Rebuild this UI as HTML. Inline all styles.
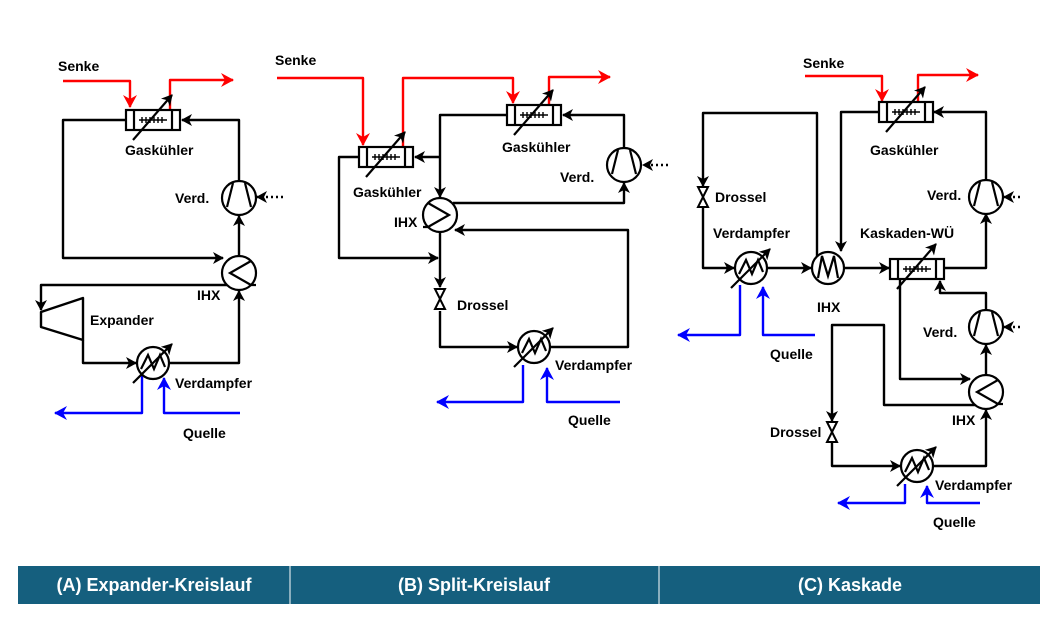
<!DOCTYPE html>
<html><head><meta charset="utf-8"><style>
html,body{margin:0;padding:0;background:#fff;}
svg{display:block;}
text{font-family:"Liberation Sans",Arial,sans-serif;font-weight:bold;font-size:14px;fill:#000;}
.bar text{fill:#fff;font-size:18px;}
</style></head><body>
<svg width="1056" height="634" viewBox="0 0 1056 634" xmlns="http://www.w3.org/2000/svg">
<defs>
<marker id="ak" markerWidth="12" markerHeight="12" refX="10" refY="6" orient="auto" markerUnits="userSpaceOnUse"><path d="M0,0 L11,6 L0,12 L3,6 Z" fill="#000"/></marker>
<marker id="ar" markerWidth="14" markerHeight="14" refX="12" refY="7" orient="auto" markerUnits="userSpaceOnUse"><path d="M0,0 L13,7 L0,14 L4,7 Z" fill="#f00"/></marker>
<marker id="ab" markerWidth="14" markerHeight="14" refX="12" refY="7" orient="auto" markerUnits="userSpaceOnUse"><path d="M0,0 L13,7 L0,14 L4,7 Z" fill="#00f"/></marker>
<g id="comp" fill="none" stroke="#000" stroke-width="2.2">
<circle r="17" fill="#fff"/><line x1="-12" y1="9" x2="-6" y2="-15"/><line x1="12" y1="9" x2="6" y2="-15"/></g>
<g id="ihxl" fill="none" stroke="#000" stroke-width="2.2">
<circle r="17" fill="#fff"/><polyline points="12,-12 -9,0 12,12 17,12"/></g>
<g id="ihxr" fill="none" stroke="#000" stroke-width="2.2">
<circle r="17" fill="#fff"/><polyline points="-12,-12 9,0 -12,12 -17,12"/></g>
<g id="ihxm" fill="none" stroke="#000" stroke-width="2.2">
<circle r="16" fill="#fff"/><polyline points="-10,10 -6,-12 0,8 6,-12 10,10"/></g>
<g id="evap" fill="none" stroke="#000" stroke-width="2.2">
<circle r="16" fill="#fff"/><polyline points="-12,6 -5,-8 1,6 7,-8 12,4"/><line x1="-20" y1="20" x2="19" y2="-19" marker-end="url(#ak)"/></g>
<g id="gc" fill="none" stroke="#000" stroke-width="2.2">
<rect x="-27" y="-10" width="54" height="20" fill="#fff"/><line x1="-19" y1="-10" x2="-19" y2="10"/><line x1="19" y1="-10" x2="19" y2="10"/>
<line x1="-14" y1="0" x2="14" y2="0" stroke-width="1.6"/><path d="M-11,-3V3M-7,-3V3M-3,-3V3M1,-3V3M5,-3V3M9,-3V3" stroke-width="1.4"/>
<line x1="-20" y1="20" x2="19" y2="-25" marker-end="url(#ak)"/></g>
<g id="valve" fill="#fff" stroke="#000" stroke-width="2"><polygon points="-5,-10 5,-10 0,0"/><polygon points="-5,10 5,10 0,0"/></g>
</defs>

<g fill="none" stroke-width="2.4" stroke-linejoin="round">
<!-- Panel A -->
<g stroke="#f00"><path d="M63,81 H130 V107" marker-end="url(#ar)"/><path d="M170,110 V80 H233" marker-end="url(#ar)"/></g>
<g stroke="#00f"><path d="M142,375 V413 H55" marker-end="url(#ab)"/><path d="M240,413 H164 V378" marker-end="url(#ab)"/></g>
<g stroke="#000">
<path d="M239,181 V120 H182" marker-end="url(#ak)"/>
<path d="M127,120 H63 V258 H223" marker-end="url(#ak)"/>
<path d="M283,197 H257" stroke-dasharray="2,3" marker-end="url(#ak)"/>
<path d="M239,256 V216" marker-end="url(#ak)"/>
<path d="M168,363 H239 V291" marker-end="url(#ak)"/>
<path d="M236,285 H41 V310" marker-end="url(#ak)"/>
<path d="M83,340 V363 H136" marker-end="url(#ak)"/>
<polygon points="41,312 83,298 83,340 41,327" fill="#fff"/>
</g>
<!-- Panel B -->
<g stroke="#f00"><path d="M277,78 H363 V145" marker-end="url(#ar)"/><path d="M403,147 V78 H513 V103" marker-end="url(#ar)"/><path d="M549,105 V77 H610" marker-end="url(#ar)"/></g>
<g stroke="#00f"><path d="M523,365 V402 H437" marker-end="url(#ab)"/><path d="M620,402 H547 V368" marker-end="url(#ab)"/></g>
<g stroke="#000">
<path d="M668,165 H643" stroke-dasharray="2,3" marker-end="url(#ak)"/>
<path d="M624,148 V115 H563" marker-end="url(#ak)"/>
<path d="M507,115 H440 V197" marker-end="url(#ak)"/>
<path d="M440,157 H415" marker-end="url(#ak)"/>
<path d="M359,157 H339 V258 H438" marker-end="url(#ak)"/>
<path d="M453,203 H624 V183" marker-end="url(#ak)"/>
<path d="M440,232 V287" marker-end="url(#ak)"/>
<path d="M440,311 V347 H517" marker-end="url(#ak)"/>
<path d="M550,347 H628 V230 H455" marker-end="url(#ak)"/>
</g>
<!-- Panel C -->
<g stroke="#f00"><path d="M805,76 H882 V101" marker-end="url(#ar)"/><path d="M918,102 V75 H978" marker-end="url(#ar)"/></g>
<g stroke="#00f"><path d="M740,285 V335 H678" marker-end="url(#ab)"/><path d="M815,335 H763 V287" marker-end="url(#ab)"/>
<path d="M905,484 V503 H838" marker-end="url(#ab)"/><path d="M980,503 H927 V486" marker-end="url(#ab)"/></g>
<g stroke="#000">
<path d="M1020,197 H1004" stroke-dasharray="2,3" marker-end="url(#ak)"/>
<path d="M986,180 V112 H934" marker-end="url(#ak)"/>
<path d="M879,112 H841 V251" marker-end="url(#ak)"/>
<path d="M817,256 V113 H703 V186" marker-end="url(#ak)"/>
<path d="M703,208 V268 H734" marker-end="url(#ak)"/>
<path d="M767,268 H811" marker-end="url(#ak)"/>
<path d="M844,268 H889" marker-end="url(#ak)"/>
<path d="M944,268 H986 V214" marker-end="url(#ak)"/>
<path d="M1020,327 H1004" stroke-dasharray="2,3" marker-end="url(#ak)"/>
<path d="M986,310 V293 H940 V281" marker-end="url(#ak)"/>
<path d="M900,279 V379 H970" marker-end="url(#ak)"/>
<path d="M986,375 V345" marker-end="url(#ak)"/>
<path d="M976,405 H884 V325 H832 V421" marker-end="url(#ak)"/>
<path d="M832,443 V466 H900" marker-end="url(#ak)"/>
<path d="M933,466 H986 V410" marker-end="url(#ak)"/>
</g>
</g>

<!-- symbols -->
<use href="#gc" x="153" y="120"/><use href="#comp" x="239" y="198"/><use href="#ihxl" x="239" y="273"/><use href="#evap" x="153" y="363"/>
<use href="#gc" x="386" y="157"/><use href="#gc" x="534" y="115"/><use href="#comp" x="624" y="165"/><use href="#ihxr" x="440" y="215"/><use href="#valve" x="440" y="299"/><use href="#evap" x="534" y="347"/>
<use href="#gc" x="906" y="112"/><use href="#comp" x="986" y="197"/><use href="#ihxm" x="828" y="268"/><use href="#valve" x="703" y="197"/><use href="#evap" x="751" y="268"/><use href="#gc" x="917" y="269"/>
<use href="#comp" x="986" y="327"/><use href="#ihxl" x="986" y="392"/><use href="#valve" x="832" y="432"/><use href="#evap" x="917" y="466"/>

<!-- labels -->
<text x="58" y="71">Senke</text><text x="125" y="155">Gaskühler</text><text x="175" y="203">Verd.</text><text x="197" y="300">IHX</text>
<text x="90" y="325">Expander</text><text x="175" y="388">Verdampfer</text><text x="183" y="438">Quelle</text>
<text x="275" y="65">Senke</text><text x="353" y="197">Gaskühler</text><text x="502" y="152">Gaskühler</text><text x="560" y="182">Verd.</text>
<text x="394" y="227">IHX</text><text x="457" y="310">Drossel</text><text x="555" y="370">Verdampfer</text><text x="568" y="425">Quelle</text>
<text x="803" y="68">Senke</text><text x="870" y="155">Gaskühler</text><text x="927" y="200">Verd.</text><text x="715" y="202">Drossel</text>
<text x="713" y="238">Verdampfer</text><text x="860" y="238">Kaskaden-WÜ</text><text x="817" y="312">IHX</text><text x="770" y="359">Quelle</text>
<text x="923" y="337">Verd.</text><text x="952" y="425">IHX</text><text x="770" y="437">Drossel</text><text x="935" y="490">Verdampfer</text><text x="933" y="527">Quelle</text>

<g class="bar">
<rect x="18" y="566" width="1022" height="38" fill="#155f7e"/>
<line x1="290" y1="566" x2="290" y2="604" stroke="#fff" stroke-width="1"/>
<line x1="659" y1="566" x2="659" y2="604" stroke="#fff" stroke-width="1"/>
<text x="154" y="591" text-anchor="middle">(A) Expander-Kreislauf</text>
<text x="474" y="591" text-anchor="middle">(B) Split-Kreislauf</text>
<text x="850" y="591" text-anchor="middle">(C) Kaskade</text>
</g>
</svg>
</body></html>
